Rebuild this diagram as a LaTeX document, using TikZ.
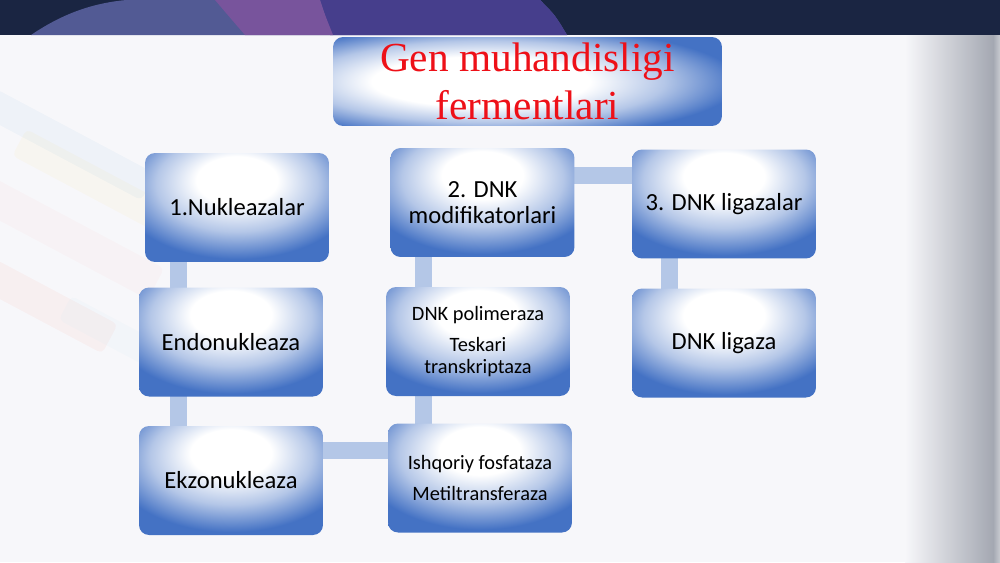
\documentclass[tikz,border=0pt]{standalone}
\usepackage{fontspec}
\setmainfont{Carlito}
\newfontfamily\titlefont{Liberation Serif}
\usetikzlibrary{positioning}
\usetikzlibrary{backgrounds}

\definecolor{bandnavy}{RGB}{26,37,66}
\definecolor{bandgrey}{RGB}{82,90,148}
\definecolor{bandviolet}{RGB}{70,62,140}
\definecolor{bandmagenta}{RGB}{120,84,156}
\definecolor{slidebg}{RGB}{247,247,250}
\definecolor{slideedge}{RGB}{164,168,178}
\definecolor{boxblue}{RGB}{68,114,196}
\definecolor{barblue}{RGB}{180,199,231}
\definecolor{titlered}{RGB}{238,16,24}

\pgfdeclareradialshading{boxglow}{\pgfpoint{0bp}{14bp}}{color(0bp)=(white); color(11bp)=(white); color(22bp)=(boxblue!40!white); color(33bp)=(boxblue); color(100bp)=(boxblue)}
\pgfdeclareradialshading{titleglow}{\pgfpoint{-7bp}{0bp}}{color(0bp)=(white); color(14bp)=(white); color(23bp)=(boxblue!40!white); color(32bp)=(boxblue); color(100bp)=(boxblue)}

\begin{document}
\begin{tikzpicture}[x=0.02cm,y=-0.02cm,
	card/.style={shade,shading=boxglow,rounded corners=0.2cm,minimum width=3.68cm,minimum height=2.18cm,align=center,text=black,inner sep=2pt,font=\fontsize{14}{15}\selectfont},
	smallcard/.style={card,font=\fontsize{11.6}{12.6}\selectfont},
	bar/.style={draw=barblue,line width=0.34cm},
	ribbon/.style={opacity=.04,rounded corners=0.1cm}]
	\useasboundingbox (0,0) rectangle (1000,562);
	
	% slide
	\begin{scope}[on background layer]
		\fill[slidebg] (0,0) rectangle (1000,562);
		\fill[ribbon,pink!70!red,rotate around={-28:(60,230)}] (-40,215) rectangle (170,250);
		\fill[ribbon,yellow!70!orange,rotate around={-28:(90,180)}] (10,165) rectangle (200,195);
		\fill[ribbon,cyan!60!blue,rotate around={-28:(60,140)}] (-20,125) rectangle (160,155);
		\fill[ribbon,red!60!orange,rotate around={-28:(40,300)}] (-40,285) rectangle (120,318);
		\fill[ribbon,cyan!50,rotate around={-28:(110,330)}] (60,318) rectangle (170,345);
		\shade[left color=slidebg,right color=slideedge] (905,35) rectangle (993,562);
		\shade[left color=slideedge,right color=slideedge!60!white] (993,35) rectangle (1000,562);
		\fill[bandnavy] (0,0) rectangle (1000,35);
		\fill[bandgrey] (31,35) .. controls (65,12) and (95,3) .. (126,0) -- (540,0) .. controls (555,15) .. (567,35) -- cycle;
		\fill[bandviolet] (330,35) .. controls (325,15) .. (320,0) -- (540,0) .. controls (555,15) .. (567,35) -- cycle;
		\fill[bandmagenta] (215,0) -- (320,0) .. controls (325,15) .. (333,35) -- (245,35) .. controls (232,20) .. (215,0) -- cycle;
	\end{scope}
	
	\node[shade,shading=titleglow,rounded corners=0.2cm,minimum width=7.78cm,minimum height=1.78cm,align=center,text=titlered,inner sep=0pt,font=\titlefont\fontsize{23.5}{27.5}\selectfont] (title) at (527.5,81.5) {Gen muhandisligi\\fermentlari};
	
	\node[card] (nuk) at (237,207.5) {1.Nukleazalar};
	\node[card] (endo) at (231,342) {Endonukleaza};
	\node[card] (ekzo) at (231,480.5) {Ekzonukleaza};
	
	\node[card] (modif) at (482.5,202.5) {2. DNK\\modifikatorlari};
	\node[smallcard] (polim) at (478,341.5) {DNK polimeraza\\[5pt]Teskari\\transkriptaza};
	\node[smallcard] (fosfa) at (480,478) {Ishqoriy fosfataza\\[5pt]Metiltransferaza};
	
	\node[card] (ligs) at (724,204) {3. DNK ligazalar};
	\node[card] (liga) at (724,343) {DNK ligaza};
	
	\coordinate (lx) at (178,0);
	\coordinate (mx) at (423,0);
	\coordinate (rx) at (669,0);
	\coordinate (ty) at (0,175);
	\coordinate (by) at (0,450);
	
	\begin{scope}[on background layer]
		\draw[bar] (nuk -| lx) -- (endo -| lx);
		\draw[bar] (endo -| lx) -- (ekzo -| lx);
		\draw[bar] (ekzo |- by) -- (fosfa |- by);
		\draw[bar] (modif -| mx) -- (polim -| mx);
		\draw[bar] (polim -| mx) -- (fosfa -| mx);
		\draw[bar] (modif |- ty) -- (ligs |- ty);
		\draw[bar] (ligs -| rx) -- (liga -| rx);
	\end{scope}
\end{tikzpicture}
\end{document}
